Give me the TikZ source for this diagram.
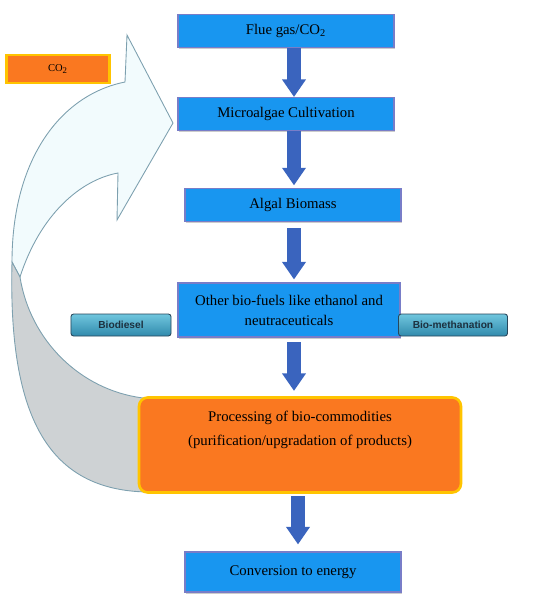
\documentclass[tikz,border=0pt]{standalone}
\usepackage{fontspec}
\setmainfont{Liberation Serif}
\setsansfont{Liberation Sans}
\usepackage{tikz}
\usetikzlibrary{arrows.meta, calc, shadows}

\definecolor{boxblue}{RGB}{24,150,240}
\definecolor{boxedge}{RGB}{120,125,200}
\definecolor{arrblue}{RGB}{58,100,190}
\definecolor{procorange}{RGB}{250,120,32}
\definecolor{procedge}{RGB}{255,196,0}
\definecolor{ribgray}{RGB}{206,210,212}
\definecolor{ribedge}{RGB}{125,160,175}
\definecolor{ribblue}{RGB}{242,251,253}
\definecolor{tealtop}{RGB}{112,198,222}
\definecolor{tealbot}{RGB}{48,138,172}
\definecolor{tealedge}{RGB}{40,70,90}

\begin{document}
\begin{tikzpicture}[x=0.2mm, y=-0.2mm,
  bluebox/.style={draw=boxedge, line width=0.6pt, fill=boxblue,
    minimum width=43.2mm, minimum height=6.6mm, align=center,
    font=\fontsize{8.4}{11.4}\selectfont,
    drop shadow={shadow xshift=0.6pt, shadow yshift=-0.9pt, opacity=0.4}},
  sidebox/.style={draw=tealedge, line width=0.5pt, rounded corners=1.5pt,
    top color=tealtop, bottom color=tealbot, minimum height=4.4mm,
    font=\sffamily\bfseries\fontsize{5.8}{6}\selectfont, text=tealedge!70!black},
  orangebox/.style={draw=procedge, fill=procorange},
  proctext/.style={font=\fontsize{8.4}{10}\selectfont},
  blk/.style={arrblue, line width=7.4pt, -{Triangle[width=13pt, length=10pt]}},
]
\useasboundingbox (0,0) rectangle (538,605);

\filldraw[fill=ribblue, draw=ribedge, line width=0.5pt]
(12,262) .. controls (12,160) and (60,95) .. (125,82) -- (127,35) -- (173,123)
-- (117,220) -- (118,173) .. controls (80,180) and (40,215) .. (20,277) -- cycle;
\filldraw[fill=ribgray, draw=ribedge, line width=0.5pt]
(12,262) .. controls (8,420) and (50,490) .. (147,492) -- (143,398)
.. controls (80,390) and (30,340) .. (20,277) -- cycle;

\path
(286,31) node[bluebox] (flue) {Flue gas/CO\textsubscript{2}};
\path
(286,114) node[bluebox] (cult) {Microalgae Cultivation};
\path
(293,205) node[bluebox] (biomass) {Algal Biomass};
\path
(289,310) node[bluebox, minimum width=44.4mm, minimum height=10.8mm] (fuels)
{Other bio-fuels like ethanol and\\neutraceuticals};
\path
(121,325) node[sidebox, minimum width=20mm] (diesel) {\raisebox{-1.5pt}{Biodiesel}};
\path
(453,325) node[sidebox, minimum width=21.8mm] (methane) {\raisebox{-1.5pt}{Bio-methanation}};
\path
(300,445) node[orangebox, line width=1.5pt, rounded corners=5pt,
  minimum width=64.4mm, minimum height=19mm] (proc) {};
\path
(300,418) node[proctext] (proctop) {Processing of bio-commodities};
\path
(300,442) node[proctext] (procbot) {(purification/upgradation of products)};
\path
(293,572) node[bluebox, minimum height=8mm] (energy) {Conversion to energy};
\path
(58,69) node[orangebox, line width=1.2pt, minimum width=20.6mm, minimum height=5.6mm,
  font=\fontsize{6}{7}\selectfont] (co2) {CO\textsubscript{2}};

\coordinate (ax) at (294,0);
\coordinate (bx) at (298,0);
\draw[blk] (flue.south -| ax) -- (cult.north -| ax);
\draw[blk, shorten >=1.5pt] (cult.south -| ax) -- (biomass.north -| ax);
\draw[blk, shorten <=3.4pt, shorten >=1.7pt] (biomass.south -| ax) -- (fuels.north -| ax);
\draw[blk, shorten <=2.8pt, shorten >=3pt] (fuels.south -| ax) -- (proc.north -| ax);
\draw[blk, shorten <=1.4pt, shorten >=4pt] (proc.south -| bx) -- (energy.north -| bx);
\end{tikzpicture}
\end{document}
